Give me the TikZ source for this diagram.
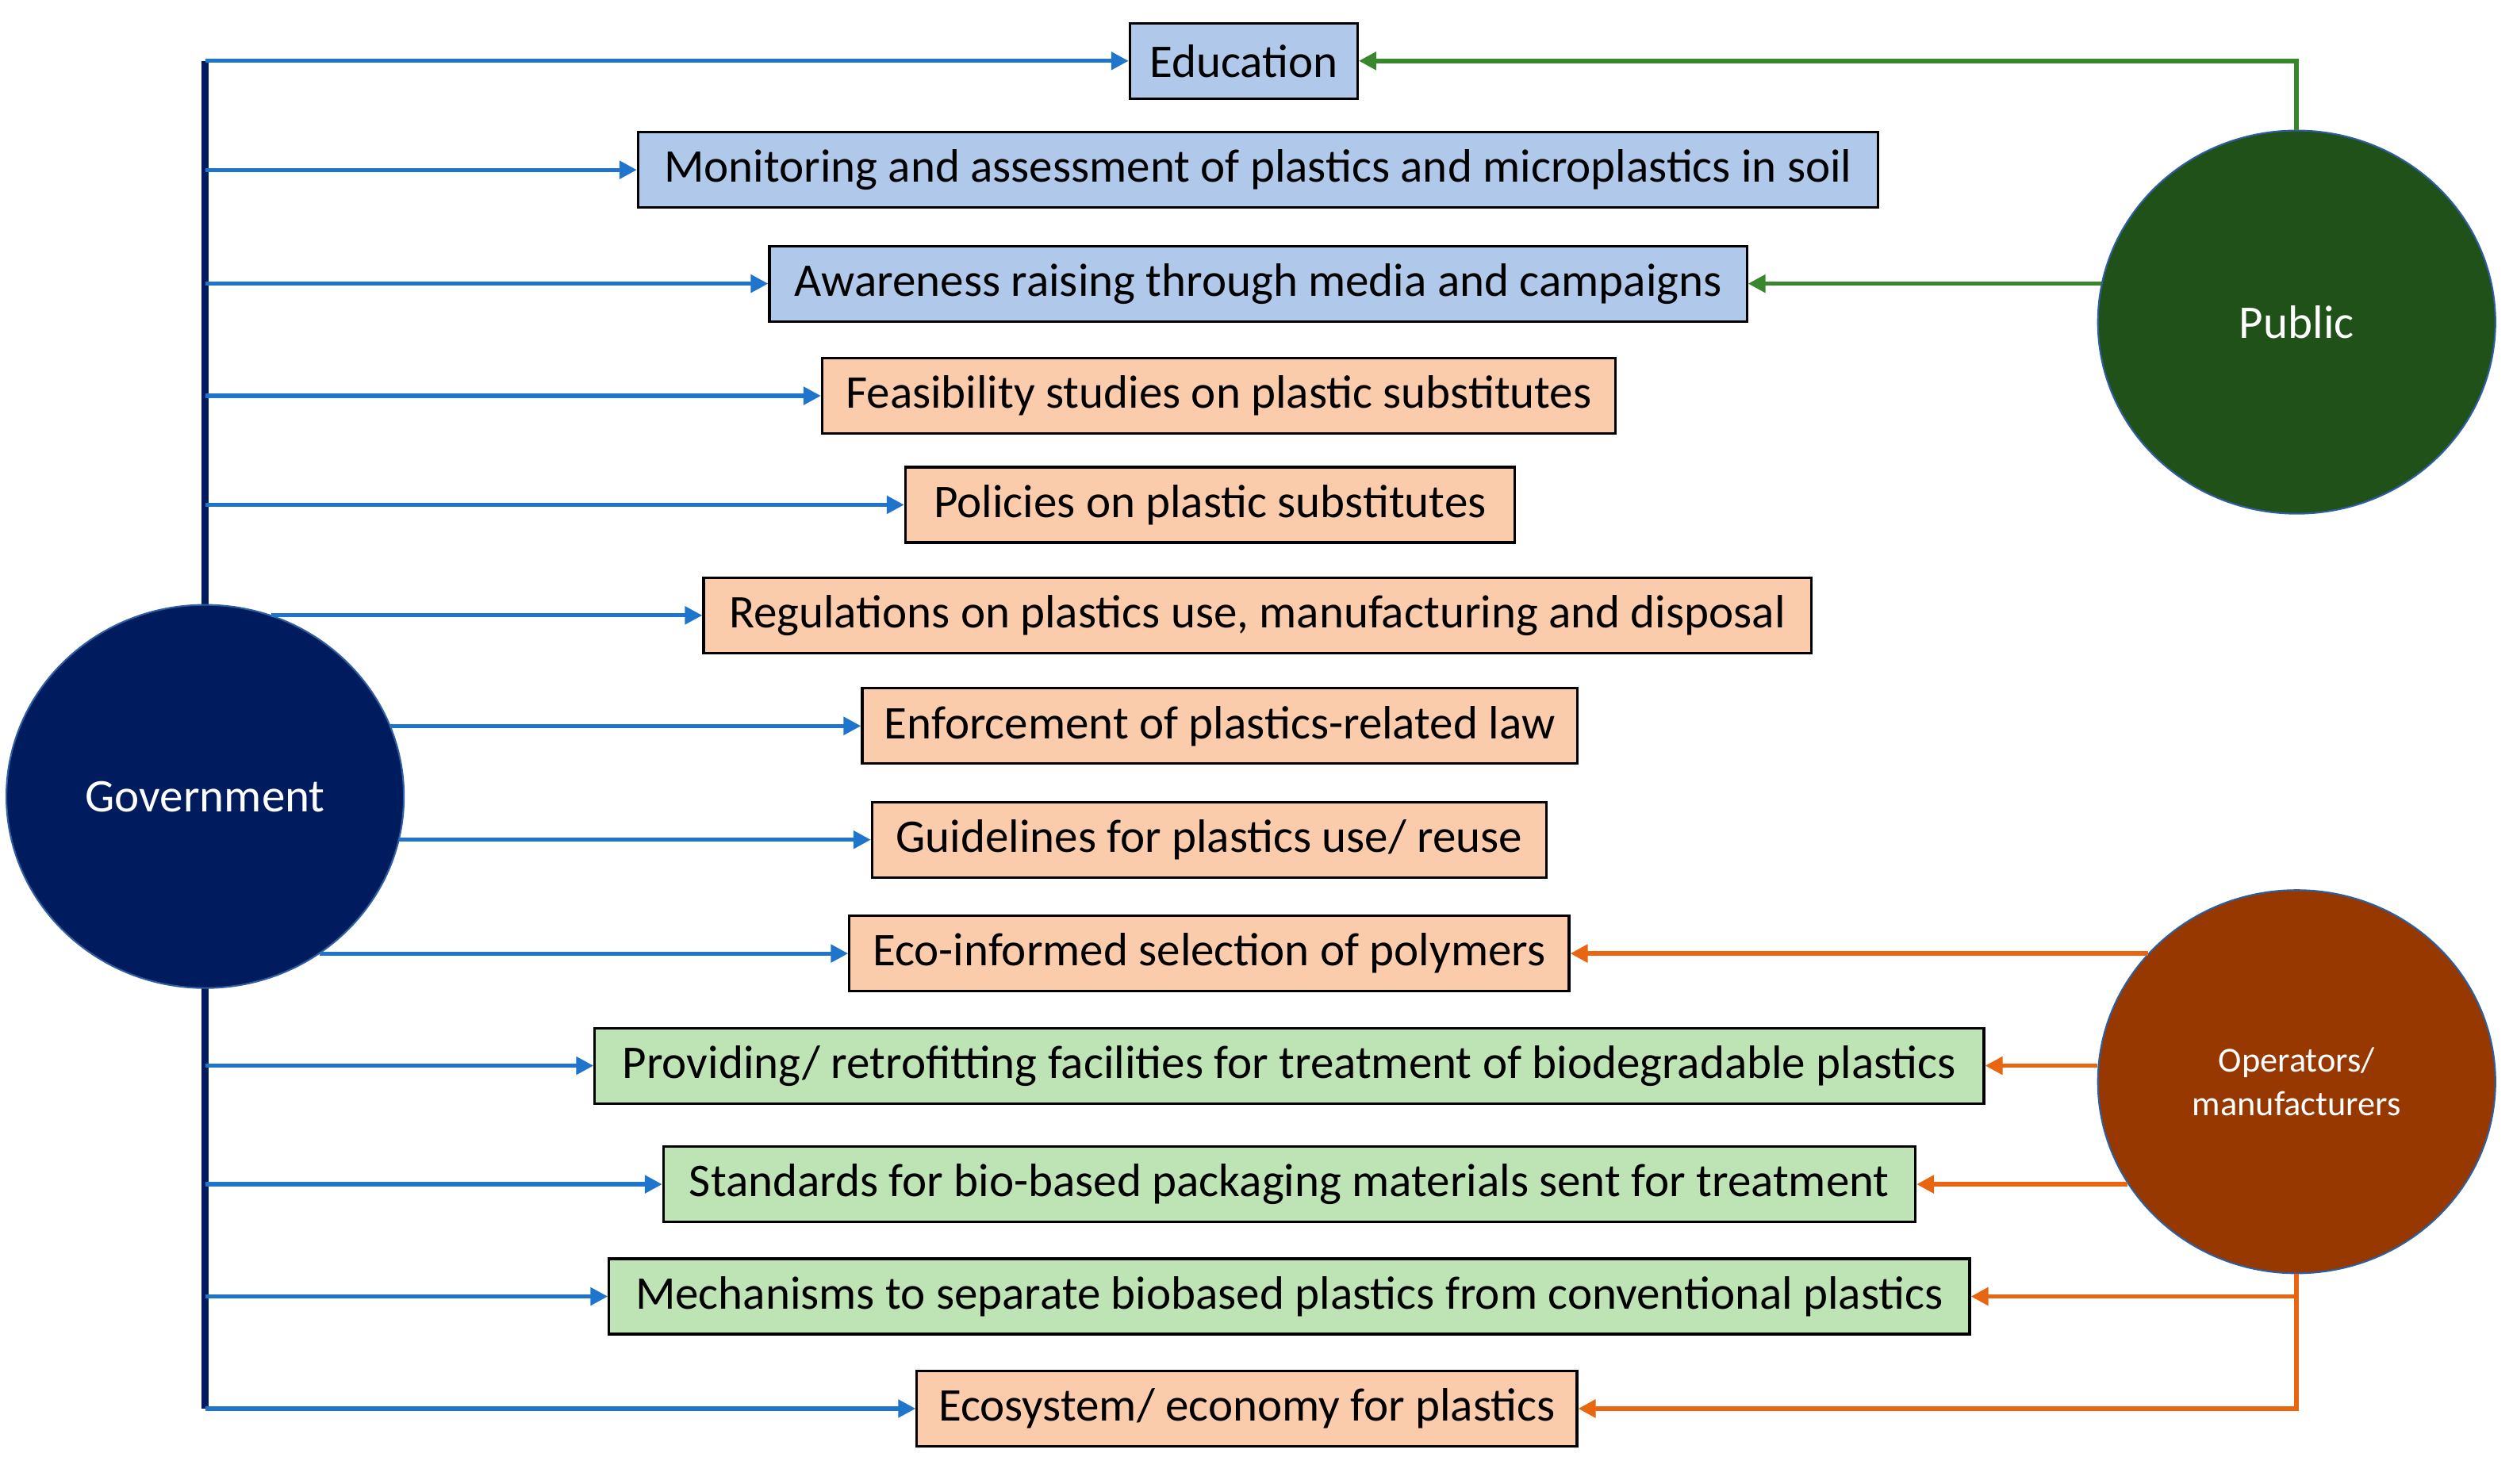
\documentclass[tikz,border=0pt]{standalone}
\usepackage{fontspec}
\setmainfont{Carlito}
\usepackage{xcolor}
\usepackage{tikz}
\usetikzlibrary{shapes.geometric, arrows.meta, positioning, calc}
\definecolor{govnavy}{RGB}{0, 28, 94}
\definecolor{linkblue}{RGB}{31, 116, 204}
\definecolor{pubgreen}{RGB}{31, 81, 25}
\definecolor{linkgreen}{RGB}{56, 135, 45}
\definecolor{operbrown}{RGB}{150, 56, 0}
\definecolor{linkorange}{RGB}{232, 101, 18}
\definecolor{boxblue}{RGB}{176, 201, 234}
\definecolor{boxorange}{RGB}{251, 204, 172}
\definecolor{boxgreen}{RGB}{190, 228, 182}
\definecolor{ringblue}{RGB}{46, 94, 160}

\begin{document}
\begin{tikzpicture}[
    x=0.0202cm, y=-0.0202cm,
    actbox/.style={rectangle, draw=black, line width=0.9pt, minimum height=0.95cm, inner xsep=0.1cm, font=\fontsize{16.8}{20}\selectfont},
    bluebox/.style={actbox, fill=boxblue},
    orangebox/.style={actbox, fill=boxorange},
    greenbox/.style={actbox, fill=boxgreen},
    actor/.style={ellipse, draw=ringblue, line width=0.6pt, minimum width=5.01cm, minimum height=4.83cm, text=white, align=center},
    govarrow/.style={-{Triangle[length=0.22cm, width=0.22cm]}, line width=1.5pt, linkblue},
    pubarrow/.style={-{Triangle[length=0.22cm, width=0.22cm]}, line width=1.6pt, linkgreen},
    operarrow/.style={-{Triangle[length=0.22cm, width=0.22cm]}, line width=1.6pt, linkorange}
]
\useasboundingbox (0,0) rectangle (1568,926);

% Government trunk
\coordinate (bartop) at (128,38);
\coordinate (barbot) at (128,879);
\draw[govnavy, line width=2.4pt] (bartop) -- (barbot);

% Actions
\node[bluebox, minimum width=2.87cm] (edu) at (776,38) {Education};
\node[bluebox, minimum width=15.63cm] (monitor) at (785,106) {Monitoring and assessment of plastics and microplastics in soil};
\node[bluebox, minimum width=12.32cm] (aware) at (785,177) {Awareness raising through media and campaigns};
\node[orangebox, minimum width=10.00cm] (feas) at (760.5,247) {Feasibility studies on plastic substitutes};
\node[orangebox, minimum width=7.68cm] (policy) at (755,315) {Policies on plastic substitutes};
\node[orangebox, minimum width=13.96cm] (regul) at (784.5,384) {Regulations on plastics use, manufacturing and disposal};
\node[orangebox, minimum width=9.01cm] (enforce) at (761,453) {Enforcement of plastics-related law};
\node[orangebox, minimum width=8.50cm] (guide) at (754.5,524) {Guidelines for plastics use/ reuse};
\node[orangebox, minimum width=9.07cm] (ecosel) at (754.5,595) {Eco-informed selection of polymers};
\node[greenbox, minimum width=17.51cm] (provide) at (804.5,665) {Providing/ retrofitting facilities for treatment of biodegradable plastics};
\node[greenbox, minimum width=15.78cm] (standard) at (804.5,739) {Standards for bio-based packaging materials sent for treatment};
\node[greenbox, minimum width=17.15cm] (mechan) at (804.5,809) {Mechanisms to separate biobased plastics from conventional plastics};
\node[orangebox, minimum width=8.32cm] (ecosys) at (778,879) {Ecosystem/ economy for plastics};

% Actors
\node[actor, fill=govnavy, font=\fontsize{16.8}{20}\selectfont] (gov) at (128,497) {Government};
\node[actor, fill=pubgreen, font=\fontsize{16.8}{20}\selectfont] (public) at (1433,201) {Public};
\node[actor, fill=operbrown, font=\fontsize{12.6}{15.5}\selectfont] (oper) at (1433,675) {Operators/\\manufacturers};

% Government links
\draw[govarrow] (bartop) -- (edu.west);
\draw[govarrow] (barbot) -- (ecosys.west);
\foreach \b in {monitor,aware,feas,policy,provide,standard,mechan}
    \draw[govarrow] (bartop |- \b.west) -- (\b.west);
\foreach \b/\a in {regul/70,enforce/21,guide/-13,ecosel/-54}
    \draw[govarrow] (gov.\a |- \b.west) -- (\b.west);

% Public links
\draw[pubarrow] (public.north) |- (edu.east);
\draw[pubarrow] (public.169 |- aware.east) -- (aware.east);

% Operator links
\draw[operarrow] (oper.139 |- ecosel.east) -- (ecosel.east);
\draw[operarrow] (oper.west |- provide.east) -- (provide.east);
\draw[operarrow] (oper.211 |- standard.east) -- (standard.east);
\draw[operarrow] (oper.south) |- (ecosys.east);
\draw[operarrow] (oper.south |- mechan.east) -- (mechan.east);
\end{tikzpicture}
\end{document}
